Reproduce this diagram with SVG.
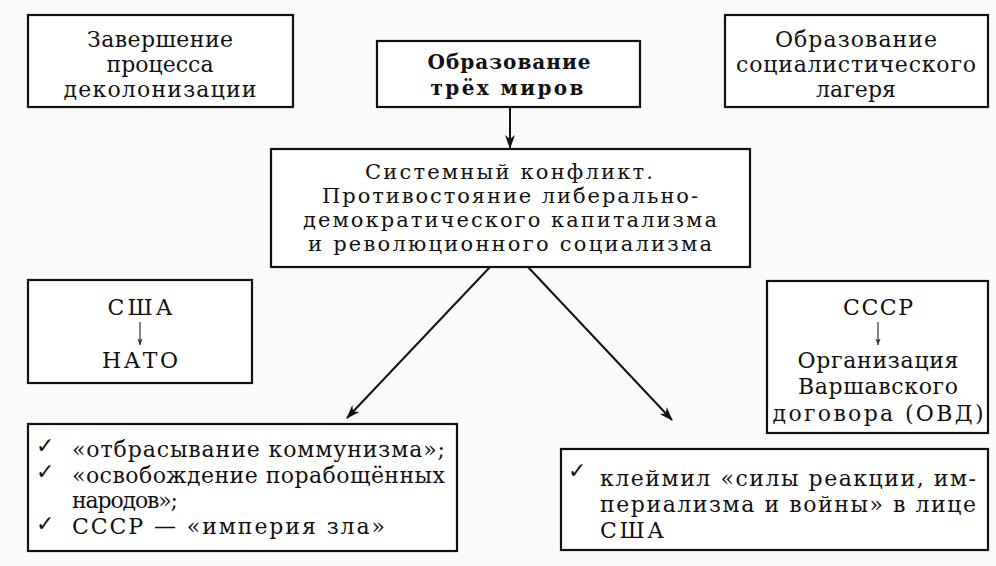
<svg xmlns="http://www.w3.org/2000/svg" width="996" height="566" viewBox="0 0 996 566">
<defs>
<style>
.box{fill:#fff;stroke:#111;stroke-width:2.2}
.t{font-family:"DejaVu Serif","Liberation Serif",serif;font-size:22px;fill:#111;text-anchor:middle}
.tl{font-family:"DejaVu Serif","Liberation Serif",serif;font-size:22px;fill:#111}
.c{font-size:21px}
.b{font-weight:bold;font-size:20px}
.ck{font-family:"DejaVu Sans",sans-serif;font-size:22px;fill:#111}
.con{stroke:#111;stroke-width:2;fill:none}
.thin{stroke:#333;stroke-width:1.2;fill:none}
</style>
<marker id="ah" viewBox="0 0 14 10" refX="13" refY="5" markerWidth="14" markerHeight="10" markerUnits="userSpaceOnUse" orient="auto">
<path d="M0,0 L14,5 L0,10 L4,5 z" fill="#111"/>
</marker>
<marker id="ahs" viewBox="0 0 8 6" refX="7.5" refY="3" markerWidth="7" markerHeight="6" markerUnits="userSpaceOnUse" orient="auto">
<path d="M0,0 L8,3 L0,6 L2,3 z" fill="#333"/>
</marker>
</defs>
<rect width="996" height="566" fill="#fafafa"/>

<g id="connectors">
<line class="con" x1="510" y1="107" x2="510" y2="148" marker-end="url(#ah)"/>
<line class="con" x1="490" y1="267" x2="347" y2="418" marker-end="url(#ah)"/>
<line class="con" x1="528" y1="267" x2="672" y2="420" marker-end="url(#ah)"/>
</g>

<g id="decolonization">
<rect class="box" x="28" y="15" width="265" height="92"/>
<text class="t" x="160" y="47" textLength="146">Завершение</text>
<text class="t" x="160" y="72" textLength="107">процесса</text>
<text class="t" x="160" y="97" textLength="193">деколонизации</text>
</g>

<g id="three-worlds">
<rect class="box" x="377" y="41" width="263" height="66"/>
<text class="t b" x="509" y="69" textLength="163">Образование</text>
<text class="t b" x="507" y="95" textLength="153">трёх  миров</text>
</g>

<g id="socialist-camp">
<rect class="box" x="725" y="15" width="263" height="92"/>
<text class="t" x="856" y="47" textLength="162">Образование</text>
<text class="t" x="856" y="72" textLength="240">социалистического</text>
<text class="t" x="856" y="97" textLength="80">лагеря</text>
</g>

<g id="system-conflict">
<rect class="box" x="271" y="149" width="479" height="118"/>
<text class="t c" x="509" y="179" textLength="288">Системный конфликт.</text>
<text class="t c" x="510" y="203" textLength="376">Противостояние либерально-</text>
<text class="t c" x="510" y="227" textLength="414">демократического капитализма</text>
<text class="t c" x="510" y="251" textLength="404">и революционного социализма</text>
</g>

<g id="usa-nato">
<rect class="box" x="28" y="280" width="224" height="103"/>
<text class="t" x="140" y="315" textLength="65">США</text>
<line class="thin" x1="140" y1="322" x2="140" y2="345" marker-end="url(#ahs)"/>
<text class="t" x="140" y="368" textLength="76">НАТО</text>
</g>

<g id="ussr-ovd">
<rect class="box" x="767" y="281" width="221" height="152"/>
<text class="t" x="878" y="315" textLength="70">СССР</text>
<line class="thin" x1="878" y1="322" x2="878" y2="345" marker-end="url(#ahs)"/>
<text class="t" x="878" y="368" textLength="161">Организация</text>
<text class="t" x="878" y="394" textLength="160">Варшавского</text>
<text class="t" x="878" y="421" textLength="211">договора (ОВД)</text>
</g>

<g id="usa-policy">
<rect class="box" x="28" y="424" width="429" height="127"/>
<text class="ck" x="36" y="453">✓</text>
<text class="tl" x="72" y="457" textLength="373">«отбрасывание коммунизма»;</text>
<text class="ck" x="36" y="479">✓</text>
<text class="tl" x="72" y="483" textLength="373">«освобождение порабощённых</text>
<text class="tl" x="72" y="508" textLength="106">народов»;</text>
<text class="ck" x="36" y="531">✓</text>
<text class="tl" x="72" y="534" textLength="313">СССР — «империя зла»</text>
</g>

<g id="ussr-policy">
<rect class="box" x="561" y="449" width="427" height="101"/>
<text class="ck" x="568" y="478">✓</text>
<text class="tl" x="600" y="486" textLength="376">клеймил «силы реакции, им-</text>
<text class="tl" x="600" y="512" textLength="376">периализма и войны» в лице</text>
<text class="tl" x="600" y="538" textLength="64">США</text>
</g>
</svg>
